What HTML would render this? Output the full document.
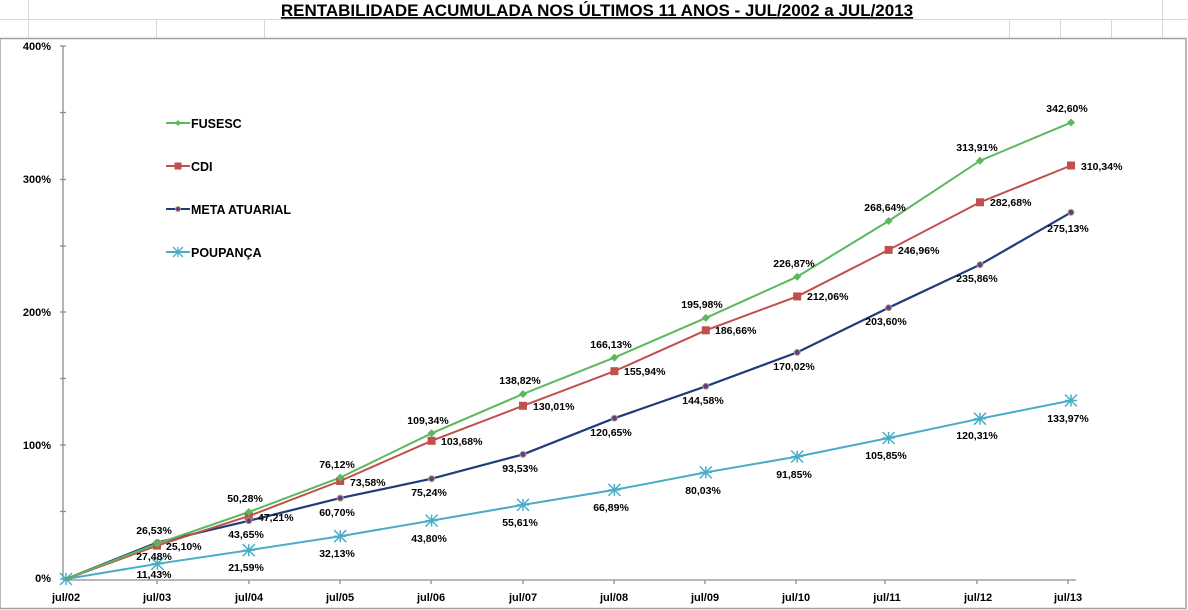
<!DOCTYPE html>
<html><head><meta charset="utf-8"><style>
html,body{margin:0;padding:0;background:#fff;width:1188px;height:610px;overflow:hidden}
svg text{font-family:"Liberation Sans",sans-serif;font-weight:bold;fill:#000}
</style></head><body>
<svg width="1188" height="610" viewBox="0 0 1188 610" xmlns="http://www.w3.org/2000/svg">
<!-- spreadsheet grid -->
<g stroke="#d8d8d8" stroke-width="1">
<line x1="0" y1="19.5" x2="1188" y2="19.5"/>
<line x1="28.5" y1="0" x2="28.5" y2="38"/>
<line x1="156.5" y1="19" x2="156.5" y2="38"/>
<line x1="264.5" y1="19" x2="264.5" y2="38"/>
<line x1="1009.5" y1="19" x2="1009.5" y2="38"/>
<line x1="1060.5" y1="19" x2="1060.5" y2="38"/>
<line x1="1111.5" y1="19" x2="1111.5" y2="38"/>
<line x1="1162.5" y1="0" x2="1162.5" y2="38"/>
</g>
<text x="597" y="16" font-size="17" text-anchor="middle" text-decoration="underline">RENTABILIDADE ACUMULADA NOS ÚLTIMOS 11 ANOS - JUL/2002 a JUL/2013</text>
<line x1="577" y1="18" x2="597" y2="18" stroke="none"/>
<!-- chart border -->
<rect x="0" y="38.5" width="1186" height="570" fill="#fff" stroke="#a0a0a0" stroke-width="1.5"/>
<!-- axes -->
<g stroke="#8c8c8c" stroke-width="1.3">
<line x1="63" y1="46" x2="63" y2="580"/>
<line x1="63" y1="580" x2="1076" y2="580"/>
<line x1="60" y1="46" x2="66" y2="46"/><line x1="60" y1="112.5" x2="66" y2="112.5"/>
<line x1="60" y1="179.5" x2="66" y2="179.5"/><line x1="60" y1="246" x2="66" y2="246"/>
<line x1="60" y1="312" x2="66" y2="312"/><line x1="60" y1="378.5" x2="66" y2="378.5"/>
<line x1="60" y1="445" x2="66" y2="445"/><line x1="60" y1="511.5" x2="66" y2="511.5"/>
<line x1="157" y1="580" x2="157" y2="584"/><line x1="249" y1="580" x2="249" y2="584"/>
<line x1="340" y1="580" x2="340" y2="584"/><line x1="431" y1="580" x2="431" y2="584"/>
<line x1="523" y1="580" x2="523" y2="584"/><line x1="614" y1="580" x2="614" y2="584"/>
<line x1="705" y1="580" x2="705" y2="584"/><line x1="796" y1="580" x2="796" y2="584"/>
<line x1="885" y1="580" x2="885" y2="584"/><line x1="977" y1="580" x2="977" y2="584"/>
<line x1="1068" y1="580" x2="1068" y2="584"/>
</g>
<g font-size="11" text-anchor="end">
<text x="51" y="50">400%</text><text x="51" y="183">300%</text>
<text x="51" y="316">200%</text><text x="51" y="449">100%</text><text x="51" y="582">0%</text>
</g>
<g font-size="11" text-anchor="middle">
<text x="66" y="601">jul/02</text><text x="157" y="601">jul/03</text><text x="249" y="601">jul/04</text>
<text x="340" y="601">jul/05</text><text x="431" y="601">jul/06</text><text x="523" y="601">jul/07</text>
<text x="614" y="601">jul/08</text><text x="705" y="601">jul/09</text><text x="796" y="601">jul/10</text>
<text x="887" y="601">jul/11</text><text x="978" y="601">jul/12</text><text x="1068" y="601">jul/13</text>
</g>
<g transform="translate(-1,1)">
<!-- Poupança -->
<polyline fill="none" stroke="#4bacc6" stroke-width="2" points="67,578 158.4,562.8 249.8,549.2 341.2,535.2 432.6,519.6 524,503.9 615.4,488.9 706.8,471.4 798.2,455.6 889.6,437 981,417.7 1072,399.5"/>
<g stroke="#4bacc6" stroke-width="1.5">
<path d="M61,572l12,12M73,572l-12,12M61,578h12M67,572v12"/>
</g>
<!-- Meta -->
<polyline fill="none" stroke="#1f3d7a" stroke-width="2.2" points="67,578 158.4,541.4 249.8,519.8 341.2,497.1 432.6,477.7 524,453.4 615.4,417.2 706.8,385.3 798.2,351.4 889.6,306.7 981,263.7 1072,211.4"/>
<!-- CDI -->
<polyline fill="none" stroke="#c0504d" stroke-width="2" points="67,578 158.4,544.6 249.8,515.1 341.2,480 432.6,439.8 524,404.8 615.4,370.2 706.8,329.3 798.2,295.4 889.6,248.9 981,201.3 1072,164.5"/>
<!-- FUSESC -->
<polyline fill="none" stroke="#5cb85c" stroke-width="2" points="67,578 158.4,542.6 249.8,511 341.2,476.6 432.6,432.3 524,393 615.4,356.6 706.8,316.9 798.2,275.7 889.6,220 981,159.7 1072,121.5"/>
<!-- markers -->
<g fill="#c0504d">
<rect x="154" y="540.6" width="8" height="8"/><rect x="245.8" y="511.1" width="8" height="8"/><rect x="337.2" y="476" width="8" height="8"/><rect x="428.6" y="435.8" width="8" height="8"/><rect x="520" y="400.8" width="8" height="8"/><rect x="611.4" y="366.2" width="8" height="8"/><rect x="702.8" y="325.3" width="8" height="8"/><rect x="794.2" y="291.4" width="8" height="8"/><rect x="885.6" y="244.9" width="8" height="8"/><rect x="977" y="197.3" width="8" height="8"/><rect x="1068" y="160.5" width="8" height="8"/>
</g>
<g fill="#7030a0" stroke="#9bbb59" stroke-width="1">
<circle cx="158.4" cy="541.4" r="3"/><circle cx="249.8" cy="519.8" r="3"/><circle cx="341.2" cy="497.1" r="3"/><circle cx="432.6" cy="477.7" r="3"/><circle cx="524" cy="453.4" r="3"/><circle cx="615.4" cy="417.2" r="3"/><circle cx="706.8" cy="385.3" r="3"/><circle cx="798.2" cy="351.4" r="3"/><circle cx="889.6" cy="306.7" r="3"/><circle cx="981" cy="263.7" r="3"/><circle cx="1072" cy="211.4" r="3"/>
</g>
<g fill="#5cb85c">
<path d="M158.4,538.6l4,4l-4,4l-4,-4z"/><path d="M249.8,507l4,4l-4,4l-4,-4z"/><path d="M341.2,472.6l4,4l-4,4l-4,-4z"/><path d="M432.6,428.3l4,4l-4,4l-4,-4z"/><path d="M524,389l4,4l-4,4l-4,-4z"/><path d="M615.4,352.6l4,4l-4,4l-4,-4z"/><path d="M706.8,312.9l4,4l-4,4l-4,-4z"/><path d="M798.2,271.7l4,4l-4,4l-4,-4z"/><path d="M889.6,216l4,4l-4,4l-4,-4z"/><path d="M981,155.7l4,4l-4,4l-4,-4z"/><path d="M1072,117.5l4,4l-4,4l-4,-4z"/>
</g>
<g stroke="#4bacc6" stroke-width="1.5" fill="none">
<path d="M152.4,556.8l12,12M164.4,556.8l-12,12M152.4,562.8h12M158.4,556.8v12"/>
<path d="M243.8,543.2l12,12M255.8,543.2l-12,12M243.8,549.2h12M249.8,543.2v12"/>
<path d="M335.2,529.2l12,12M347.2,529.2l-12,12M335.2,535.2h12M341.2,529.2v12"/>
<path d="M426.6,513.6l12,12M438.6,513.6l-12,12M426.6,519.6h12M432.6,513.6v12"/>
<path d="M518,497.9l12,12M530,497.9l-12,12M518,503.9h12M524,497.9v12"/>
<path d="M609.4,482.9l12,12M621.4,482.9l-12,12M609.4,488.9h12M615.4,482.9v12"/>
<path d="M700.8,465.4l12,12M712.8,465.4l-12,12M700.8,471.4h12M706.8,465.4v12"/>
<path d="M792.2,449.6l12,12M804.2,449.6l-12,12M792.2,455.6h12M798.2,449.6v12"/>
<path d="M883.6,431l12,12M895.6,431l-12,12M883.6,437h12M889.6,431v12"/>
<path d="M975,411.7l12,12M987,411.7l-12,12M975,417.7h12M981,411.7v12"/>
<path d="M1066,393.5l12,12M1078,393.5l-12,12M1066,399.5h12M1072,393.5v12"/>
</g>
<!-- labels -->
<g font-size="10.5" text-anchor="middle">
<text x="155" y="533">26,53%</text><text x="246" y="501">50,28%</text><text x="338" y="467">76,12%</text><text x="429" y="423">109,34%</text><text x="521" y="383">138,82%</text><text x="612" y="347">166,13%</text><text x="703" y="307">195,98%</text><text x="795" y="266">226,87%</text><text x="886" y="210">268,64%</text><text x="978" y="150">313,91%</text><text x="1068" y="111">342,60%</text>
<text x="155" y="559">27,48%</text><text x="247" y="537">43,65%</text><text x="338" y="515">60,70%</text><text x="430" y="495">75,24%</text><text x="521" y="471">93,53%</text><text x="612" y="435">120,65%</text><text x="704" y="403">144,58%</text><text x="795" y="369">170,02%</text><text x="887" y="324">203,60%</text><text x="978" y="281">235,86%</text><text x="1069" y="231">275,13%</text>
<text x="155" y="577">11,43%</text><text x="247" y="570">21,59%</text><text x="338" y="556">32,13%</text><text x="430" y="541">43,80%</text><text x="521" y="525">55,61%</text><text x="612" y="510">66,89%</text><text x="704" y="493">80,03%</text><text x="795" y="477">91,85%</text><text x="887" y="458">105,85%</text><text x="978" y="438">120,31%</text><text x="1069" y="421">133,97%</text>
</g>
<g font-size="10.5">
<text x="167" y="549">25,10%</text><text x="259" y="520">47,21%</text><text x="351" y="485">73,58%</text><text x="442" y="444">103,68%</text><text x="534" y="409">130,01%</text><text x="625" y="374">155,94%</text><text x="716" y="333">186,66%</text><text x="808" y="299">212,06%</text><text x="899" y="253">246,96%</text><text x="991" y="205">282,68%</text><text x="1082" y="169">310,34%</text>
</g>
</g>
<!-- legend -->
<g stroke-width="2">
<line x1="166" y1="123" x2="190" y2="123" stroke="#5cb85c"/>
<line x1="166" y1="166" x2="190" y2="166" stroke="#c0504d"/>
<line x1="166" y1="209" x2="190" y2="209" stroke="#1f3d7a"/>
<line x1="166" y1="252" x2="190" y2="252" stroke="#4bacc6"/>
</g>
<path d="M178,120l3,3l-3,3l-3,-3z" fill="#5cb85c"/>
<rect x="174.5" y="162.5" width="7" height="7" fill="#c0504d"/>
<circle cx="178" cy="209" r="2.5" fill="#7030a0" stroke="#9bbb59"/>
<path d="M173,247l10,10M183,247l-10,10M178,247v10" stroke="#4bacc6" stroke-width="1.3"/>
<g font-size="12.5">
<text x="191" y="128">FUSESC</text><text x="191" y="171">CDI</text>
<text x="191" y="214">META ATUARIAL</text><text x="191" y="257">POUPANÇA</text>
</g>
</svg>
</body></html>
